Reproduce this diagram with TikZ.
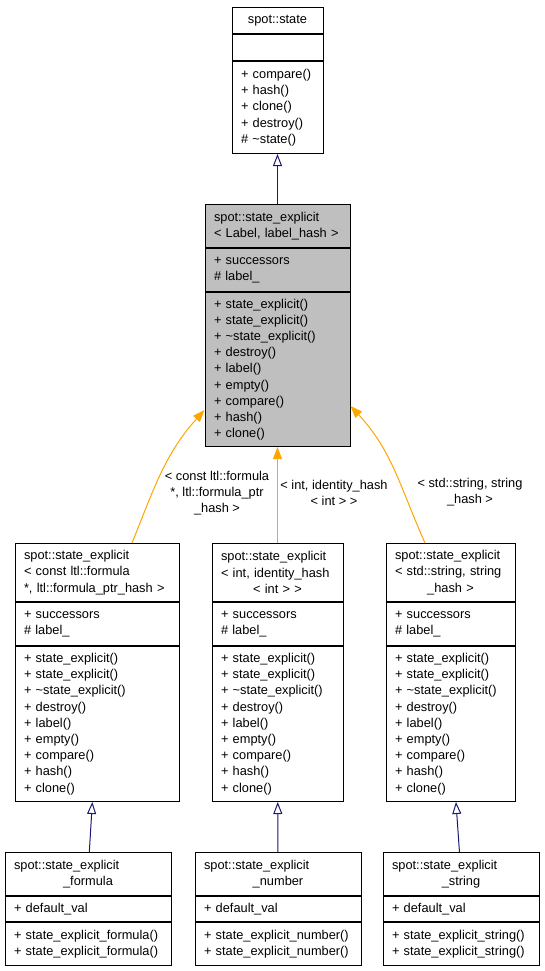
\documentclass[tikz,border=0pt]{standalone}
\usepackage{fontspec}
\setmainfont{Liberation Sans}
\usetikzlibrary{arrows.meta}
\definecolor{clsgray}{HTML}{BFBFBF}
\definecolor{inhblue}{HTML}{191970}
\definecolor{tmplorange}{HTML}{FFA500}
\newcommand{\ctrline}[1]{\makebox[\hsize]{#1}}
\begin{document}
\begin{tikzpicture}[x=1pt,y=-1pt,font=\fontsize{12.8}{16.2}\selectfont,
    cls/.style={draw,line width=1pt,anchor=north,inner xsep=9pt,inner ysep=0pt,align=left,text width=#1},
    inherit/.style={draw=inhblue,line width=1pt,-{Triangle[open,length=12pt,width=9pt]}},
    tmpl/.style={draw=tmplorange,line width=1pt,-{Triangle[length=12pt,width=9pt]}},
    lbl/.style={align=center,inner sep=0pt}]
                \useasboundingbox (0,0) rectangle (544,971);
                %% spot::state
                \node[cls=73pt,minimum height=26pt,align=center] (sT) at (277.5,7) {spot::state};
                \node[cls=73pt,minimum height=26pt] (sA) at (sT.south) {};
                \node[cls=73pt,minimum height=92pt] (sM) at (sA.south) {+ compare()\\+ hash()\\+ clone()\\+ destroy()\\\# \textasciitilde state()};
                %% spot::state_explicit<Label, label_hash>
                \node[cls=127pt,fill=clsgray,minimum height=43pt] (gT) at (277.5,204) {spot::state\_explicit\\< Label, label\_hash >};
                \node[cls=127pt,fill=clsgray,minimum height=43pt] (gA) at (gT.south) {+ successors\\\# label\_};
                \node[cls=127pt,fill=clsgray,minimum height=154pt] (gM) at (gA.south) {+ state\_explicit()\\+ state\_explicit()\\+ \textasciitilde state\_explicit()\\+ destroy()\\+ label()\\+ empty()\\+ compare()\\+ hash()\\+ clone()};
                %% template instances
                \node[cls=146pt,minimum height=58pt] (fT) at (97,543) {spot::state\_explicit\\< const ltl::formula\\{}*, ltl::formula\_ptr\_hash >};
                \node[cls=146pt,minimum height=43pt] (fA) at (fT.south) {+ successors\\\# label\_};
                \node[cls=146pt,minimum height=155pt] (fM) at (fA.south) {+ state\_explicit()\\+ state\_explicit()\\+ \textasciitilde state\_explicit()\\+ destroy()\\+ label()\\+ empty()\\+ compare()\\+ hash()\\+ clone()};
                \node[cls=113pt,minimum height=58pt] (iT) at (277.5,543) {spot::state\_explicit\\< int, identity\_hash\\\ctrline{< int > >}};
                \node[cls=113pt,minimum height=43pt] (iA) at (iT.south) {+ successors\\\# label\_};
                \node[cls=113pt,minimum height=155pt] (iM) at (iA.south) {+ state\_explicit()\\+ state\_explicit()\\+ \textasciitilde state\_explicit()\\+ destroy()\\+ label()\\+ empty()\\+ compare()\\+ hash()\\+ clone()};
                \node[cls=111pt,minimum height=58pt] (tT) at (450.5,543) {spot::state\_explicit\\< std::string, string\\\ctrline{\_hash >}};
                \node[cls=111pt,minimum height=43pt] (tA) at (tT.south) {+ successors\\\# label\_};
                \node[cls=111pt,minimum height=155pt] (tM) at (tA.south) {+ state\_explicit()\\+ state\_explicit()\\+ \textasciitilde state\_explicit()\\+ destroy()\\+ label()\\+ empty()\\+ compare()\\+ hash()\\+ clone()};
                %% derived classes
                \node[cls=148pt,minimum height=43pt] (xfT) at (88,852) {spot::state\_explicit\\\ctrline{\_formula}};
                \node[cls=148pt,minimum height=25pt] (xfA) at (xfT.south) {+ default\_val};
                \node[cls=148pt,minimum height=43pt] (xfM) at (xfA.south) {+ state\_explicit\_formula()\\+ state\_explicit\_formula()};
                \node[cls=148pt,minimum height=43pt] (xnT) at (278,852) {spot::state\_explicit\\\ctrline{\_number}};
                \node[cls=148pt,minimum height=25pt] (xnA) at (xnT.south) {+ default\_val};
                \node[cls=148pt,minimum height=43pt] (xnM) at (xnA.south) {+ state\_explicit\_number()\\+ state\_explicit\_number()};
                \node[cls=138pt,minimum height=43pt] (xsT) at (461,852) {spot::state\_explicit\\\ctrline{\_string}};
                \node[cls=138pt,minimum height=25pt] (xsA) at (xsT.south) {+ default\_val};
                \node[cls=138pt,minimum height=43pt] (xsM) at (xsA.south) {+ state\_explicit\_string()\\+ state\_explicit\_string()};
                %% edges
                \draw[inherit] (gT) -- (sM);
                \draw[tmpl] ([xshift=35pt]fT.north) to[out=68,in=228] ([yshift=37pt]gM.south west);
                \draw[tmpl] (iT) -- (gM);
                \draw[tmpl] ([xshift=-25.5pt]tT.north) to[out=114,in=313] ([yshift=41pt]gM.south east);
                \draw[inherit] (xfT) -- (fM);
                \draw[inherit] (xnT) -- (iM);
                \draw[inherit] (xsT) -- (tM);
                %% labels
                \node[lbl] (fL) at (217,493) {< const ltl::formula\\{}*, ltl::formula\_ptr\\\_hash >};
                \node[lbl] (iL) at (334,493) {< int, identity\_hash\\< int > >};
                \node[lbl] (tL) at (470,492) {< std::string, string\\\_hash >};
            \end{tikzpicture}
\end{document}
